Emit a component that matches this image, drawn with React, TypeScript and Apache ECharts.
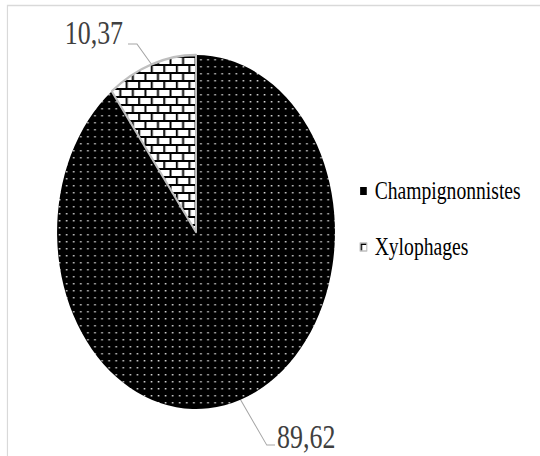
import React, { useEffect, useRef } from 'react';
import * as echarts from 'echarts';

// Share of each feeding group (%)
const categories = ['Champignonnistes', 'Xylophages'];
const values = [89.62, 10.37];

// The figure is drawn on a wider canvas and squeezed horizontally.
const SQUEEZE = 0.785;
const OUT_W = 540;
const OUT_H = 456;
const CANVAS_W = OUT_W / SQUEEZE;

const CX = 249.7;
const CY = 232;
const R = 177;
const START_ANGLE = 90;

const FONT = 'Liberation Serif';

// leader line shape and label offset for each slice
const leaders = [
  { dx: 33.4, dy: 45.3, run: 10.6, gap: 2.6, textDy: -8.5 },
  { dx: -18.5, dy: -20.3, run: -11.5, gap: 6.3, textDy: -11.6 },
];

function dotPattern(): HTMLCanvasElement {
  const c = document.createElement('canvas');
  c.width = 9;
  c.height = 7;
  const g = c.getContext('2d')!;
  g.fillStyle = '#000';
  g.fillRect(0, 0, 9, 7);
  g.fillStyle = '#d6d6d6';
  g.fillRect(3, 3, 2, 1.5);
  return c;
}

function brickPattern(): HTMLCanvasElement {
  const c = document.createElement('canvas');
  c.width = 16;
  c.height = 16;
  const g = c.getContext('2d')!;
  g.fillStyle = '#fff';
  g.fillRect(0, 0, 16, 16);
  g.fillStyle = '#000';
  g.fillRect(0, 0, 16, 2);
  g.fillRect(0, 8, 16, 2);
  g.fillRect(0, 2, 2.5, 6);
  g.fillRect(8, 10, 2.5, 6);
  return c;
}

function midPoint(i: number): [number, number] {
  const total = values.reduce((a, b) => a + b, 0);
  const before = values.slice(0, i).reduce((a, b) => a + b, 0);
  const ang = ((START_ANGLE - (360 * (before + values[i] / 2)) / total) * Math.PI) / 180;
  return [CX + R * Math.cos(ang), CY - R * Math.sin(ang)];
}

export default function App() {
  const ref = useRef<HTMLDivElement>(null);

  useEffect(() => {
    const el = ref.current;
    if (!el) return;
    const chart = echarts.init(el, null, { renderer: 'svg' });

    const dots = { image: dotPattern(), repeat: 'repeat', imageWidth: 9, imageHeight: 7 };
    const bricks = { image: brickPattern(), repeat: 'repeat', imageWidth: 16, imageHeight: 16 };

    const fills = [
      { color: dots, borderWidth: 0 },
      { color: bricks, borderColor: '#bfbfbf', borderWidth: 2.5 },
    ];

    chart.setOption({
      animation: false,
      backgroundColor: '#fff',
      graphic: [
        {
          type: 'rect',
          silent: true,
          shape: { x: 9.5, y: 5.5, width: 2000, height: 2000 },
          style: { fill: 'none', stroke: '#d9d9d9', lineWidth: 1.5 },
        },
      ],
      legend: {
        orient: 'vertical',
        left: 453,
        top: 173.5,
        itemWidth: 8.5,
        itemHeight: 8,
        itemGap: 31,
        icon: 'rect',
        textStyle: {
          fontFamily: FONT,
          fontSize: 25,
          color: '#000',
          padding: [0, 0, 0, 5],
        },
        data: [
          { name: categories[0], itemStyle: { color: '#000', borderWidth: 0 } },
          {
            name: categories[1],
            itemStyle: { color: bricks, borderColor: '#bfbfbf', borderWidth: 1.5 },
          },
        ],
      },
      series: [
        {
          type: 'pie',
          center: [CX, CY],
          radius: R,
          startAngle: START_ANGLE,
          clockwise: true,
          avoidLabelOverlap: false,
          data: categories.map((name, i) => ({
            name,
            value: values[i],
            itemStyle: fills[i],
          })),
          label: {
            show: true,
            position: 'outside',
            fontFamily: FONT,
            fontSize: 33,
            color: '#404040',
            formatter: (p: any) => Number(p.value).toFixed(2).replace('.', ','),
          },
          labelLine: {
            show: true,
            lineStyle: { color: '#a6a6a6', width: 1.2 },
          },
          labelLayout: (params: any) => {
            const i = params.dataIndex;
            const L = leaders[i];
            const p0 = midPoint(i);
            const p1 = [p0[0] + L.dx, p0[1] + L.dy];
            const p2 = [p1[0] + L.run, p1[1]];
            const right = L.run < 0;
            return {
              x: right ? p2[0] - L.gap : p2[0] + L.gap,
              y: p2[1] + L.textDy,
              align: right ? 'right' : 'left',
              verticalAlign: 'middle',
              labelLinePoints: [p0, p1, p2],
              hideOverlap: false,
            };
          },
        },
      ],
    });

    return () => chart.dispose();
  }, []);

  return (
    <div
      style={{
        position: 'absolute',
        left: 0,
        top: 0,
        width: OUT_W,
        height: OUT_H,
        overflow: 'hidden',
        background: '#fff',
      }}
    >
      <div
        ref={ref}
        style={{
          width: CANVAS_W,
          height: OUT_H,
          transform: `scaleX(${SQUEEZE})`,
          transformOrigin: '0 0',
        }}
      />
    </div>
  );
}
